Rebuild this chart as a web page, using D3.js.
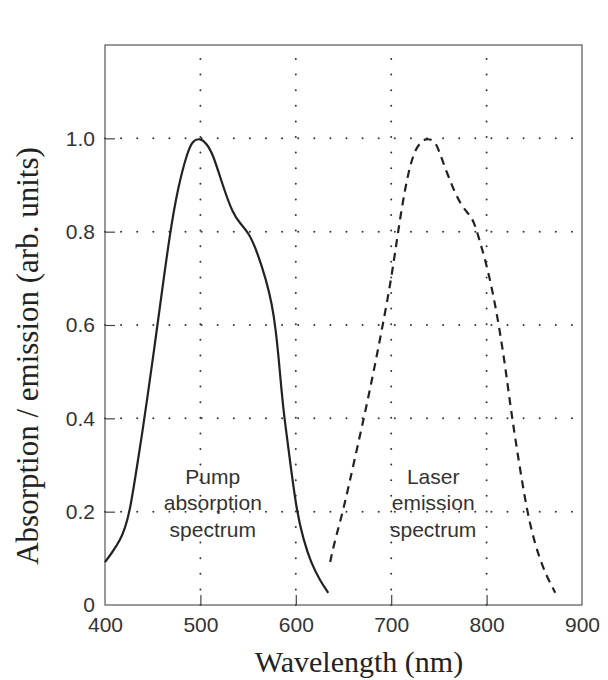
<!DOCTYPE html>
<html>
<head>
<meta charset="utf-8">
<script src="https://cdn.jsdelivr.net/npm/d3@7"></script>
<style>
  body { margin: 0; background: #fff; }
  svg { display: block; }
</style>
</head>
<body>
<div id="chart"></div>
<script>
// pump absorption spectrum (solid)
pumpWavelength = [400, 407, 416, 421, 426, 433.5, 439, 444, 451, 457.5, 468, 476.5, 486, 492, 500, 506, 513, 524, 534, 541.5, 551, 560, 569, 575, 579, 582, 585, 588, 594.5, 601, 608, 616, 625, 634]
pumpValue = [0.092, 0.111, 0.139, 0.165, 0.2, 0.296, 0.368, 0.439, 0.54, 0.638, 0.797, 0.895, 0.968, 0.996, 1.0, 0.99, 0.968, 0.895, 0.839, 0.818, 0.797, 0.754, 0.696, 0.645, 0.59, 0.53, 0.46, 0.40, 0.3, 0.2, 0.14, 0.09, 0.054, 0.026]

// laser emission spectrum (dashed)
laserWavelength = [636, 641, 649.5, 662, 675.5, 684.5, 693.5, 701, 707, 714.5, 723, 730, 736, 746, 751, 764, 775, 785, 790, 800, 808, 814, 820, 826, 834, 842, 850, 859, 866, 872]
laserValue = [0.092, 0.139, 0.2, 0.315, 0.439, 0.53, 0.625, 0.711, 0.797, 0.895, 0.968, 0.99, 1.0, 0.996, 0.968, 0.895, 0.85, 0.831, 0.8, 0.73, 0.655, 0.585, 0.505, 0.41, 0.305, 0.205, 0.135, 0.08, 0.05, 0.026]

xTicks = [400, 500, 600, 700, 800, 900]
yTicks = [0, 0.2, 0.4, 0.6, 0.8, 1.0]
yTickLabels = ["0", "0.2", "0.4", "0.6", "0.8", "1.0"]
xGrid = [500, 600, 700, 800]
yGrid = [0.2, 0.4, 0.6, 0.8, 1.0]

labels = [
    { x: 513, lines: ["Pump", "absorption", "spectrum"] },
    { x: 744, lines: ["Laser", "emission", "spectrum"] }
]

let svg, xScale, yScale;

document.addEventListener('DOMContentLoaded', function () {
    drawChart();
});

function drawChart() {
    margin = { top: 45, right: 26, bottom: 75, left: 105 };
    width = 608 - margin.left - margin.right;
    height = 680 - margin.top - margin.bottom;

    svg = d3.select("#chart")
        .append("svg")
        .attr("width", 608)
        .attr("height", 680)
        .append("g")
        .attr("transform", "translate(" + margin.left + "," + margin.top + ")");

    xScale = d3.scaleLinear()
        .domain([400, 900])
        .range([0, width]);

    yScale = d3.scaleLinear()
        .domain([0, 1.2])
        .range([height, 0]);

    // dotted grid
    svg.selectAll(".vgrid")
        .data(xGrid)
        .enter().append("line")
        .attr("class", "vgrid")
        .attr("x1", d => xScale(d)).attr("x2", d => xScale(d))
        .attr("y1", height).attr("y2", 0)
        .attr("stroke", "#333")
        .attr("stroke-width", 2)
        .attr("stroke-linecap", "round")
        .attr("stroke-dasharray", "0,15.6");

    svg.selectAll(".hgrid")
        .data(yGrid)
        .enter().append("line")
        .attr("class", "hgrid")
        .attr("x1", 0).attr("x2", width)
        .attr("y1", d => yScale(d)).attr("y2", d => yScale(d))
        .attr("stroke", "#333")
        .attr("stroke-width", 2)
        .attr("stroke-linecap", "round")
        .attr("stroke-dasharray", "0,16.1");

    // frame
    svg.append("rect")
        .attr("x", 0).attr("y", 0)
        .attr("width", width).attr("height", height)
        .attr("fill", "none")
        .attr("stroke", "#555")
        .attr("stroke-width", 1.2);

    // axes with inward ticks
    const xAxis = svg.append("g")
        .attr("transform", "translate(0," + height + ")")
        .call(d3.axisBottom(xScale).tickValues(xTicks).tickSize(-10).tickPadding(12).tickFormat(d3.format("d")));

    const yAxis = svg.append("g")
        .call(d3.axisLeft(yScale).tickValues(yTicks).tickSize(-10).tickPadding(10).tickFormat((d, i) => yTickLabels[i]));

    [xAxis, yAxis].forEach(function (ax) {
        ax.select(".domain").remove();
        ax.selectAll(".tick line").attr("stroke", "#444").attr("stroke-width", 1.2);
        ax.selectAll(".tick text")
            .attr("fill", "#333")
            .style("font-family", "'Liberation Sans', Arial, sans-serif")
            .style("font-size", "21px");
    });
    xAxis.selectAll(".tick").filter(d => d == 400 || d == 900).select("line").remove();
    yAxis.selectAll(".tick").filter(d => d == 0).select("line").remove();

    // curves
    const line = d3.line()
        .x(d => xScale(d[0]))
        .y(d => yScale(d[1]))
        .curve(d3.curveBasis);

    svg.append("path")
        .datum(d3.zip(pumpWavelength, pumpValue))
        .attr("fill", "none")
        .attr("stroke", "#222")
        .attr("stroke-width", 2.2)
        .attr("d", line);

    svg.append("path")
        .datum(d3.zip(laserWavelength, laserValue))
        .attr("fill", "none")
        .attr("stroke", "#222")
        .attr("stroke-width", 2.2)
        .attr("stroke-dasharray", "8,6")
        .attr("d", line);

    // curve labels
    labels.forEach(function (lab) {
        const t = svg.append("text")
            .attr("x", xScale(lab.x))
            .attr("y", yScale(0.26))
            .attr("fill", "#333")
            .style("font-family", "'Liberation Sans', Arial, sans-serif")
            .style("font-size", "21px")
            .style("text-anchor", "middle");
        lab.lines.forEach(function (s, i) {
            t.append("tspan")
                .attr("x", xScale(lab.x))
                .attr("dy", i == 0 ? 0 : 26.5)
                .text(s);
        });
    });

    // axis titles
    svg.append("text")
        .attr("x", 359 - margin.left)
        .attr("y", 672 - margin.top)
        .attr("fill", "#222")
        .style("font-family", "'Liberation Serif', 'Times New Roman', serif")
        .style("font-size", "30px")
        .style("text-anchor", "middle")
        .text("Wavelength (nm)");

    svg.append("text")
        .attr("transform", "translate(" + (38 - margin.left) + "," + (356 - margin.top) + ") rotate(-90)")
        .attr("fill", "#222")
        .style("font-family", "'Liberation Serif', 'Times New Roman', serif")
        .style("font-size", "31px")
        .style("text-anchor", "middle")
        .text("Absorption / emission (arb. units)");
}
</script>
</body>
</html>
